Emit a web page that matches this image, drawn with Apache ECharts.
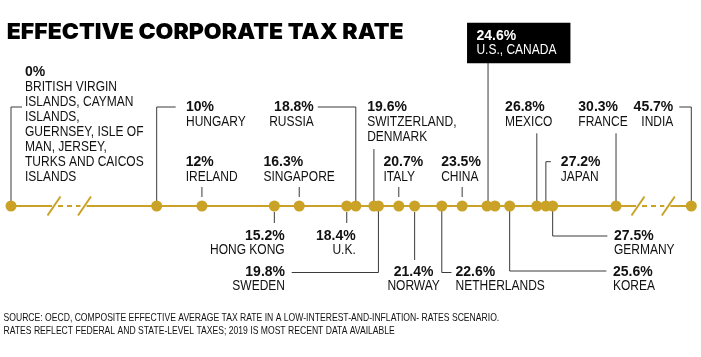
<!DOCTYPE html>
<html><head><meta charset="utf-8">
<script src="https://cdn.jsdelivr.net/npm/echarts@6/dist/echarts.min.js"></script>
<style>html,body{margin:0;padding:0;background:#fff}#c{width:701px;height:357px}</style>
</head><body><div id="c"></div>
<script>
// ---- data ----
const titleText = 'EFFECTIVE CORPORATE TAX RATE';
const footLines = [
  'SOURCE: OECD, COMPOSITE EFFECTIVE AVERAGE TAX RATE IN A LOW-INTEREST-AND-INFLATION- RATES SCENARIO.',
  'RATES REFLECT FEDERAL AND STATE-LEVEL TAXES; 2019 IS MOST RECENT DATA AVAILABLE'
];
const names = ['BRITISH VIRGIN ISLANDS, CAYMAN ISLANDS, GUERNSEY, ISLE OF MAN, JERSEY, TURKS AND CAICOS ISLANDS',
  'HUNGARY','IRELAND','HONG KONG','SINGAPORE','U.K.','RUSSIA','SWITZERLAND, DENMARK','SWEDEN','ITALY',
  'NORWAY','NETHERLANDS','CHINA','U.S.','CANADA','KOREA','MEXICO','JAPAN','GERMANY','FRANCE','INDIA'];
const rates = [0, 10, 12, 15.2, 16.3, 18.4, 18.8, 19.6, 19.8, 20.7, 21.4, 22.6, 23.5, 24.6, 24.95, 25.6, 26.8, 27.2, 27.5, 30.3, 45.7];
const pctLabels = ['0%','10%','12%','15.2%','16.3%','18.4%','18.8%','19.6%','19.8%','20.7%','21.4%','22.6%','23.5%','24.6%',null,'25.6%','26.8%','27.2%','27.5%','30.3%','45.7%'];
const labelLines = [
  ['BRITISH VIRGIN','ISLANDS, CAYMAN','ISLANDS,','GUERNSEY, ISLE OF','MAN, JERSEY,','TURKS AND CAICOS','ISLANDS'],
  ['HUNGARY'],['IRELAND'],['HONG KONG'],['SINGAPORE'],['U.K.'],['RUSSIA'],['SWITZERLAND,','DENMARK'],
  ['SWEDEN'],['ITALY'],['NORWAY'],['NETHERLANDS'],['CHINA'],['U.S., CANADA'],null,['KOREA'],['MEXICO'],
  ['JAPAN'],['GERMANY'],['FRANCE'],['INDIA']
];
// axis breaks (value units)
const axisBreaks = [{start: 1.9, end: 6.81, gap: 1.348}, {start: 31.272, end: 44.684, gap: 1.339}];

// ---- layout (pixel offsets relative to each dot) ----
const layout = [
  {tx:14, ty:-139.3, align:'left', line:[[0,0],[0,-99],[11,-99]]},
  {tx:29.3, ty:-104.3, align:'left', line:[[0,0],[0,-99],[19,-99]]},
  {tx:-16.3, ty:-48.5, align:'left', line:[[0,-19],[0,-9]]},
  {tx:10.3, ty:25, align:'right', line:[[0,6],[0,17]], gap:14.2},
  {tx:-35.7, ty:-49.3, align:'left', line:[[0,-19],[0,-9]]},
  {tx:9, ty:25, align:'right', line:[[0,6],[0,17]], gap:14.2},
  {tx:-42, ty:-104.3, align:'right', line:[[0,0],[0,-99],[-38,-99]]},
  {tx:-6.7, ty:-104.3, align:'left', line:[[0,-57],[0,0]]},
  {tx:-93.4, ty:60.7, align:'right', line:[[0,0],[0,66.5],[-86.7,66.5]], gap:14.3},
  {tx:-15.3, ty:-49.3, align:'left', line:[[0,-19],[0,-9]]},
  {tx:-1, ty:60.7, align:'center', line:[[0,6],[0,54]], gap:14.3},
  {tx:13.7, ty:60.7, align:'left', line:[[0,0],[0,66.5],[9.7,66.5]], gap:14.3},
  {tx:-21, ty:-49.3, align:'left', line:[[0,-19],[0,-9]]},
  {tx:-10.6, ty:-175, align:'left', line:[[1,-143],[1,0]], box:[-20,-183.3,103.4,40.6], gap:14},
  null,
  {tx:103.3, ty:60.7, align:'left', line:[[0,0],[0,65],[96.7,65]], gap:14.3},
  {tx:-31.7, ty:-104.3, align:'left', line:[[0,-72.7],[0,0]]},
  {tx:15, ty:-49.3, align:'left', line:[[0,0],[0,-44.3],[5,-44.3]]},
  {tx:61.3, ty:25, align:'left', line:[[0,0],[0,30],[54.7,30]], gap:14.2},
  {tx:-37.7, ty:-104.3, align:'left', line:[[0,-72.7],[0,0]]},
  {tx:-18, ty:-104.3, align:'right', line:[[0,0],[0,-99],[-12,-99]]}
];

const GOLD = '#C9A227';
const INK = '#111';
const LEAD = '#3a3a3a';
const FONT = 'Liberation Sans';

function measure(text, font) {
  const c = document.createElement('canvas').getContext('2d');
  c.font = font;
  return c.measureText(text).width;
}
const titleFont = '900 22px Inter';
const titleScale = 397 / measure(titleText, titleFont);
const footFont = '11px "Liberation Sans"';
const footScale = 495.7 / measure(footLines[0], footFont);
const regSize = 14;
const regScale = 92 / measure('BRITISH VIRGIN', regSize + 'px "Liberation Sans"');

const chart = echarts.init(document.getElementById('c'), null, {renderer: 'canvas'});

function renderAxisLine(params, api) {
  const y = api.coord([0, 0])[1];
  const X = v => api.coord([v, 0])[0];
  const x0 = X(rates[0]), x1 = X(rates[rates.length - 1]);
  const b = axisBreaks.map(br => [X(br.start), X(br.end)]);
  const ch = [];
  const seg = (a, c, dash) => ch.push({type: 'line', shape: {x1: a, y1: y, x2: c, y2: y},
    style: {stroke: GOLD, lineWidth: 2, lineDash: dash || null}});
  const slash = cx => ch.push({type: 'line', shape: {x1: cx - 6.5, y1: y + 9.5, x2: cx + 6.5, y2: y - 9.5},
    style: {stroke: GOLD, lineWidth: 2}});
  seg(x0, b[0][0] - 2);
  seg(b[0][0] + 4, b[0][1] - 4, [5, 4]);
  seg(b[0][1] + 2, b[1][0] - 2);
  seg(b[1][0] + 4, b[1][1] - 4, [5, 4]);
  seg(b[1][1] + 2, x1);
  slash(b[0][0]); slash(b[0][1]); slash(b[1][0]); slash(b[1][1]);
  return {type: 'group', children: ch};
}

function renderLabel(params, api) {
  const i = params.dataIndex;
  const L = layout[i];
  if (!L) return null;
  const p = api.coord([api.value(0), 0]);
  const x = p[0], y = p[1];
  const ch = [];
  if (L.box) {
    ch.push({type: 'rect', shape: {x: x + L.box[0], y: y + L.box[1], width: L.box[2], height: L.box[3]},
      style: {fill: '#000'}, z2: 1});
  }
  ch.push({type: 'polyline', shape: {points: L.line.map(q => [x + q[0], y + q[1]])},
    style: {stroke: LEAD, lineWidth: 1, fill: null}, z2: 0});
  const color = L.box ? '#fff' : INK;
  const rows = [pctLabels[i]].concat(labelLines[i]);
  const gap = L.gap || 15;
  rows.forEach((t, k) => {
    const bold = k === 0;
    ch.push({type: 'text', x: x + L.tx, y: y + L.ty + 5 + k * gap, z2: 2,
      scaleX: bold ? 1 : regScale,
      style: {text: t, fill: color,
        fontFamily: FONT,
        fontWeight: bold ? 'bold' : 'normal',
        fontSize: bold ? 14 : regSize,
        align: L.align, verticalAlign: 'middle'}});
  });
  return {type: 'group', children: ch};
}

const option = {
  animation: false,
  backgroundColor: '#fff',
  grid: {left: 11, right: 9.7, top: 186, height: 40, containLabel: false},
  xAxis: {
    type: 'value', min: rates[0], max: rates[rates.length - 1],
    breaks: axisBreaks,
    breakArea: {show: false},
    axisLine: {show: false}, axisTick: {show: false}, axisLabel: {show: false}, splitLine: {show: false}
  },
  yAxis: {type: 'value', min: -1, max: 1, show: false},
  graphic: [
    {type: 'text', x: 6.7, y: 32.3, scaleX: titleScale, z: 10,
      style: {text: titleText, font: titleFont, fill: '#000', verticalAlign: 'middle'}},
    {type: 'text', x: 3.5, y: 318.3, scaleX: footScale, z: 10,
      style: {text: footLines[0], font: footFont, fill: INK, verticalAlign: 'middle'}},
    {type: 'text', x: 3.5, y: 331, scaleX: footScale, z: 10,
      style: {text: footLines[1], font: footFont, fill: INK, verticalAlign: 'middle'}}
  ],
  series: [
    {type: 'custom', name: 'axis', renderItem: renderAxisLine, data: [[0, 0]], z: 1, silent: true, clip: false},
    {type: 'custom', name: 'labels', renderItem: renderLabel, data: rates.map(v => [v, 0]), z: 2, silent: true, clip: false},
    {type: 'scatter', name: 'rates', data: rates.map((v, i) => ({name: names[i], value: [v, 0]})),
      symbolSize: 11, itemStyle: {color: GOLD, opacity: 1}, z: 3, silent: true, clip: false}
  ]
};
chart.setOption(option);
</script>
</body></html>
